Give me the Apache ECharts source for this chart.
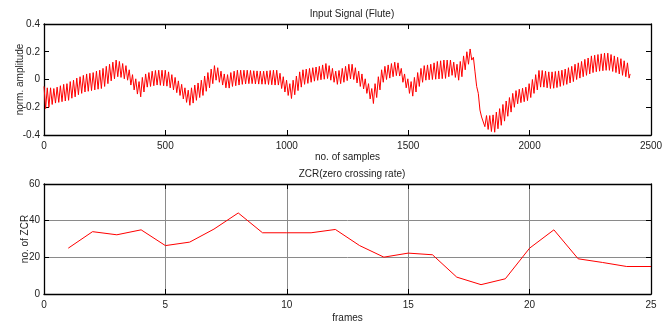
<!DOCTYPE html>
<html><head><meta charset="utf-8">
<script src="https://cdn.jsdelivr.net/npm/echarts@6/dist/echarts.min.js"></script>
<style>html,body{margin:0;padding:0;background:#fff}#c{width:666px;height:324px}</style>
</head><body><div id="c"></div>
<script>
// ---- data ----
const samplePeriod = 13.5; // samples per oscillation cycle
const signalPeaks = [
-0.05,-0.06,-0.06,-0.065,-0.055,-0.045,-0.035,-0.03,-0.015,-0.005,
0.01,0.02,0.03,0.04,0.045,0.05,0.06,0.067,0.08,0.095,
0.11,0.125,0.14,0.13,0.115,0.10,0.07,0.035,0.005,-0.015,
0.015,0.04,0.05,0.06,0.065,0.067,0.067,0.067,0.055,0.035,
0.015,-0.01,-0.035,-0.06,-0.077,-0.06,-0.04,-0.025,-0.005,0.025,
0.05,0.075,0.10,0.085,0.06,0.04,0.035,0.05,0.06,0.067,
0.067,0.067,0.067,0.065,0.063,0.062,0.06,0.06,0.062,0.065,
0.067,0.067,0.045,0.02,-0.005,-0.03,-0.005,0.025,0.055,0.07,
0.075,0.08,0.085,0.09,0.095,0.105,0.115,0.10,0.08,0.06,
0.065,0.08,0.095,0.11,0.11,0.085,0.06,0.04,0.005,-0.03,
-0.065,-0.03,0.02,0.07,0.095,0.105,0.115,0.125,0.12,0.08,
0.04,0.005,-0.015,0.015,0.05,0.08,0.10,0.105,0.11,0.12,
0.13,0.135,0.14,0.14,0.14,0.125,0.11,0.13,0.17,0.20,
0.22,0.16,-0.05,-0.22,-0.26,-0.26,-0.26,-0.255,-0.235,-0.21,
-0.18,-0.155,-0.13,-0.10,-0.08,-0.07,-0.063,-0.055,-0.03,0.0,
0.035,0.065,0.065,0.06,0.055,0.055,0.058,0.062,0.067,0.075,
0.085,0.095,0.11,0.12,0.13,0.145,0.155,0.17,0.175,0.18,
0.185,0.19,0.19,0.18,0.17,0.16,0.15,0.135,0.12
];
const signalTroughs = [
-0.21,-0.20,-0.18,-0.17,-0.165,-0.16,-0.155,-0.15,-0.135,-0.125,
-0.11,-0.10,-0.09,-0.085,-0.08,-0.075,-0.07,-0.065,-0.05,-0.03,
-0.01,0.005,0.02,0.015,0.005,-0.005,-0.04,-0.075,-0.105,-0.125,
-0.09,-0.055,-0.05,-0.045,-0.04,-0.042,-0.045,-0.048,-0.06,-0.075,
-0.095,-0.115,-0.14,-0.165,-0.186,-0.17,-0.15,-0.13,-0.115,-0.085,
-0.06,-0.03,-0.005,-0.02,-0.04,-0.06,-0.062,-0.05,-0.045,-0.04,
-0.035,-0.032,-0.03,-0.03,-0.032,-0.033,-0.034,-0.034,-0.036,-0.038,
-0.04,-0.04,-0.065,-0.09,-0.115,-0.137,-0.11,-0.08,-0.055,-0.035,
-0.028,-0.02,-0.012,-0.006,-0.002,0.002,0.007,-0.005,-0.02,-0.035,
-0.03,-0.02,-0.008,0.004,0.0,-0.025,-0.05,-0.068,-0.10,-0.14,
-0.173,-0.13,-0.075,-0.02,0.0,0.01,0.02,0.028,0.025,-0.02,
-0.06,-0.10,-0.12,-0.09,-0.05,-0.02,-0.005,-0.002,0.0,0.002,
0.004,0.006,0.008,0.02,0.03,0.015,-0.005,0.02,0.07,0.11,
0.14,0.055,-0.10,-0.27,-0.34,-0.36,-0.375,-0.38,-0.355,-0.33,
-0.30,-0.265,-0.235,-0.20,-0.175,-0.167,-0.16,-0.152,-0.13,-0.10,
-0.075,-0.055,-0.055,-0.06,-0.065,-0.063,-0.058,-0.05,-0.042,-0.035,
-0.025,-0.015,0.0,0.01,0.02,0.03,0.04,0.05,0.056,0.06,
0.063,0.066,0.066,0.058,0.05,0.04,0.03,0.02,0.01
];
const signalEnd = [2414, 0.04];

const zcrFrames = [1,2,3,4,5,6,7,8,9,10,11,12,13,14,15,16,17,18,19,20,21,22,23,24,25];
const zcrValues = [25,34,32.3,35,26.4,28.3,35.4,44.2,33.4,33.4,33.4,35.2,26.4,20.1,22.3,21.4,9.2,5.1,8.3,25,35,19.2,17.2,15,15];

const topXTicks = ['0','500','1000','1500','2000','2500'];
const topYTicks = ['-0.4','-0.2','0','0.2','0.4'];
const botXTicks = ['0','5','10','15','20','25'];
const botYTicks = ['0','20','40','60'];

// ---- build ----
const signalData = [];
for (let c = 0; c < signalPeaks.length; c++) {
  signalData.push([c * samplePeriod, signalPeaks[c]]);
  signalData.push([c * samplePeriod + samplePeriod / 2, signalTroughs[c]]);
}
signalData.push(signalEnd);
const zcrData = zcrFrames.map((f, i) => [f, zcrValues[i]]);

const FONT = 'Liberation Sans';
const lab = (arr, min, step) => (v) => { const i = Math.round((v - min) / step); return arr[i] !== undefined ? arr[i] : ''; };
const axLine = { show: true, onZero: false, lineStyle: { color: '#000', width: 1.3 } };
const tick = { show: true, inside: true, length: 5, lineStyle: { color: '#000', width: 1 } };
const labelStyle = { color: '#222', fontFamily: FONT, fontSize: 10 };
const nameStyle = { color: '#222', fontFamily: FONT, fontSize: 10 };
const grid = { color: '#8a8a8a', width: 1 };

const chart = echarts.init(document.getElementById('c'), null, { renderer: 'canvas' });
chart.setOption({
  animation: false,
  backgroundColor: '#fff',
  title: [
    { text: 'Input Signal (Flute)', left: 347, top: 4, textAlign: 'center', textStyle: { fontFamily: FONT, fontSize: 10, fontWeight: 'normal', color: '#222' } },
    { text: 'ZCR(zero crossing rate)', left: 347, top: 164, textAlign: 'center', textStyle: { fontFamily: FONT, fontSize: 10, fontWeight: 'normal', color: '#222' } }
  ],
  grid: [
    { left: 44, top: 24, width: 607, height: 111, containLabel: false, outerBoundsMode: 'none' },
    { left: 44, top: 184, width: 607, height: 110, containLabel: false, outerBoundsMode: 'none' }
  ],
  xAxis: [
    { gridIndex: 0, type: 'value', min: 0, max: 2500, interval: 500, position: 'bottom',
      axisLine: axLine, axisTick: tick, splitLine: { show: false },
      axisLabel: Object.assign({ margin: 6, formatter: lab(topXTicks, 0, 500) }, labelStyle),
      name: 'no. of samples', nameLocation: 'middle', nameGap: 17, nameMoveOverlap: false, nameTextStyle: nameStyle },
    { gridIndex: 0, type: 'value', min: 0, max: 2500, interval: 500, position: 'top',
      axisLine: axLine, axisTick: tick, splitLine: { show: false }, axisLabel: { show: false } },
    { gridIndex: 1, type: 'value', min: 0, max: 25, interval: 5, position: 'bottom',
      axisLine: axLine, axisTick: tick, splitLine: { show: true, lineStyle: grid },
      axisLabel: Object.assign({ margin: 6, formatter: lab(botXTicks, 0, 5) }, labelStyle),
      name: 'frames', nameLocation: 'middle', nameGap: 19, nameMoveOverlap: false, nameTextStyle: nameStyle },
    { gridIndex: 1, type: 'value', min: 0, max: 25, interval: 5, position: 'top',
      axisLine: axLine, axisTick: tick, splitLine: { show: false }, axisLabel: { show: false } }
  ],
  yAxis: [
    { gridIndex: 0, type: 'value', min: -0.4, max: 0.4, interval: 0.2, position: 'left',
      axisLine: axLine, axisTick: tick, splitLine: { show: false },
      axisLabel: Object.assign({ margin: 4, formatter: lab(topYTicks, -0.4, 0.2) }, labelStyle),
      name: 'norm. amplitude', nameLocation: 'middle', nameGap: 19, nameMoveOverlap: false, nameTextStyle: nameStyle },
    { gridIndex: 0, type: 'value', min: -0.4, max: 0.4, interval: 0.2, position: 'right',
      axisLine: axLine, axisTick: tick, splitLine: { show: false }, axisLabel: { show: false } },
    { gridIndex: 1, type: 'value', min: 0, max: 60, interval: 20, position: 'left',
      axisLine: axLine, axisTick: tick, splitLine: { show: true, lineStyle: grid },
      axisLabel: Object.assign({ margin: 4, formatter: lab(botYTicks, 0, 20) }, labelStyle),
      name: 'no. of ZCR', nameLocation: 'middle', nameGap: 14, nameMoveOverlap: false, nameTextStyle: nameStyle },
    { gridIndex: 1, type: 'value', min: 0, max: 60, interval: 20, position: 'right',
      axisLine: axLine, axisTick: tick, splitLine: { show: false }, axisLabel: { show: false } }
  ],
  series: [
    { type: 'line', xAxisIndex: 0, yAxisIndex: 0, data: signalData, showSymbol: false, symbol: 'none',
      lineStyle: { color: '#ff0000', width: 1 }, z: 3 },
    { type: 'line', xAxisIndex: 2, yAxisIndex: 2, data: zcrData, showSymbol: false, symbol: 'none',
      lineStyle: { color: '#ff0000', width: 1 }, z: 3 }
  ]
});
</script></body></html>
